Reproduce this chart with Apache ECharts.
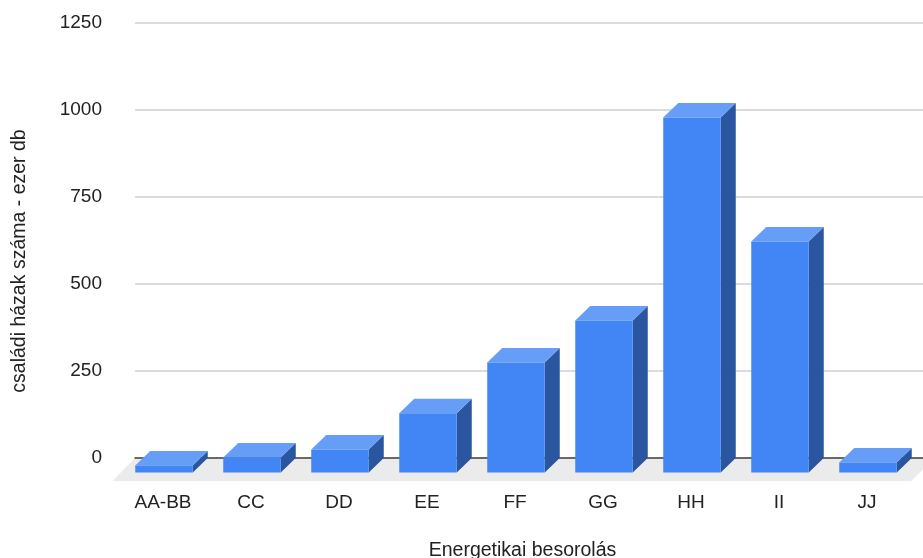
<!DOCTYPE html>
<html>
<head>
<meta charset="utf-8">
<style>html,body{margin:0;padding:0;background:#fff}#c{width:923px;height:558px}</style>
<script src="https://cdn.jsdelivr.net/npm/echarts@6/dist/echarts.min.js"></script>
</head>
<body>
<div id="c"></div>
<script>
const categories = ['AA-BB','CC','DD','EE','FF','GG','HH','II','JJ'];
const houses = [20, 43, 66, 170, 316, 437, 1020, 664, 29];
const xName = 'Energetikai besorolás';
const yName = 'családi házak száma - ezer db';

const FRONT = '#4285f4', TOP = '#669df6', SIDE = '#2a56a0', FLOOR = '#ebebeb';
const DEPTH_X = 15, DEPTH_Y = 14.5, BAR_W = 57.5;
const FONT = '"Liberation Sans", Arial, sans-serif';

const chart = echarts.init(document.getElementById('c'), null, {renderer:'canvas'});

function renderBar(params, api) {
  const base = api.coord([api.value(0), 0]);
  const top = api.coord([api.value(0), api.value(1)]);
  const xL = base[0] - BAR_W / 2 - DEPTH_X;
  const xR = xL + BAR_W;
  const yB = base[1] + DEPTH_Y;
  const yT = top[1] + DEPTH_Y;
  return {
    type: 'group',
    children: [
      {type:'polygon', shape:{points:[[xR,yT],[xR+DEPTH_X,yT-DEPTH_Y],[xR+DEPTH_X,yB-DEPTH_Y],[xR,yB]]}, style:{fill:SIDE}},
      {type:'polygon', shape:{points:[[xL,yT],[xL+DEPTH_X,yT-DEPTH_Y],[xR+DEPTH_X,yT-DEPTH_Y],[xR,yT]]}, style:{fill:TOP}},
      {type:'rect', shape:{x:xL,y:yT,width:BAR_W,height:yB-yT}, style:{fill:FRONT}}
    ]
  };
}

function renderFloor(params, api) {
  const y = api.coord([0, 0])[1];
  const cs = params.coordSys;
  return {
    type:'polygon',
    shape:{points:[[cs.x-22.5,y+23],[cs.x,y],[cs.x+cs.width+8,y],[cs.x+cs.width-16,y+23]]},
    style:{fill:FLOOR}
  };
}

chart.setOption({
  animation:false,
  backgroundColor:'#fff',
  grid:{left:135,top:23,width:792,height:435,outerBoundsMode:'none'},
  textStyle:{fontFamily:FONT},
  xAxis:{
    type:'category',
    data:categories,
    name:xName,
    nameLocation:'middle',
    nameGap:83,
    nameTextStyle:{fontSize:19.5,color:'#222',fontFamily:FONT,padding:[0,17,0,0]},
    axisTick:{show:false},
    axisLine:{show:true,onZero:true,lineStyle:{color:'#444',width:1.5}},
    axisLabel:{margin:35,fontSize:19,color:'#222',fontFamily:FONT,align:'center',padding:[0,32,0,0],interval:0},
    splitLine:{show:false}
  },
  yAxis:{
    type:'value',
    min:0,max:1250,interval:250,
    name:yName,
    nameLocation:'middle',
    nameGap:105,
    nameTextStyle:{fontSize:19.5,color:'#222',fontFamily:FONT,padding:[0,41,0,0]},
    axisLine:{show:false},
    axisTick:{show:false},
    axisLabel:{margin:33,fontSize:19,color:'#222',fontFamily:FONT,padding:[2,0,0,0],formatter:v=>String(v)},
    splitLine:{show:true,lineStyle:{color:'#d0d0d0',width:1.5}}
  },
  series:[
    {type:'custom',z:-1,silent:true,clip:false,renderItem:renderFloor,data:[[0,0]],encode:{x:0,y:1}},
    {type:'custom',z:5,clip:false,renderItem:renderBar,
     data:categories.map((c,i)=>[i,houses[i]]),encode:{x:0,y:1}}
  ]
});
</script>
</body>
</html>
